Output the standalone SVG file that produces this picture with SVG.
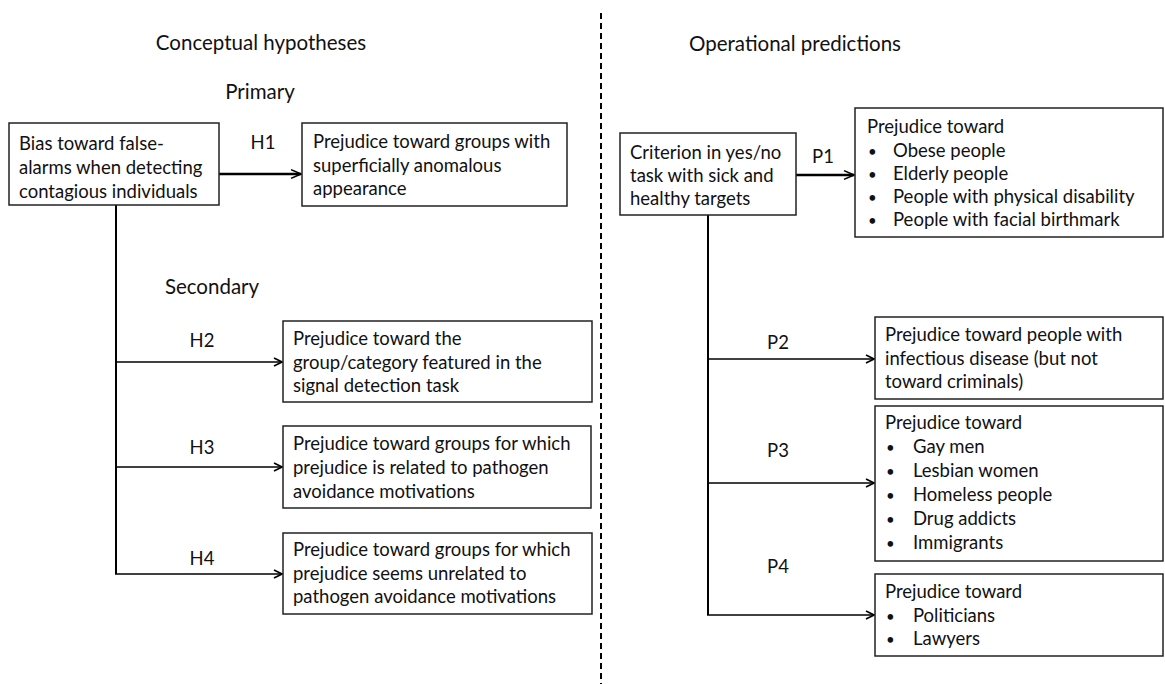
<svg xmlns="http://www.w3.org/2000/svg" width="1165" height="684" viewBox="0 0 1165 684">
<style>
text { font-family: Lato, "Open Sans", "Liberation Sans", sans-serif; font-size: 18.5px; fill: #111; }
.title { font-size: 20.5px; }
.box { fill: #fff; stroke: #222; stroke-width: 1.5; }
.thick { stroke: #000; stroke-width: 2.5; fill: none; }
.thin { stroke: #000; stroke-width: 1.6; fill: none; }
.trunk { stroke: #000; stroke-width: 2; fill: none; }
.lbl { text-anchor: middle; }
.bul { font-size: 15px; }
</style>
<defs>
<marker id="ahb" viewBox="0 0 10 10" refX="9" refY="5" markerWidth="5" markerHeight="5" orient="auto" markerUnits="strokeWidth">
<path d="M1,1.5 L9,5 L1,8.5" fill="none" stroke="#000" stroke-width="1.3"/>
</marker>
<marker id="ahs" viewBox="0 0 10 10" refX="9" refY="5" markerWidth="10" markerHeight="10" orient="auto" markerUnits="userSpaceOnUse">
<path d="M1,1 L9,5 L1,9" fill="none" stroke="#000" stroke-width="1.6"/>
</marker>
</defs>

<g id="headings">
<text class="title lbl" x="261" y="50">Conceptual hypotheses</text>
<text class="title lbl" x="260" y="99">Primary</text>
<text class="title lbl" x="212" y="294">Secondary</text>
<text class="title lbl" x="795" y="51">Operational predictions</text>
</g>

<g id="divider">
<line x1="601" y1="13" x2="601" y2="684" stroke="#000" stroke-width="2" stroke-dasharray="6 4"/>
</g>

<g id="connectors">
<line class="thick" x1="219" y1="174" x2="301" y2="174" marker-end="url(#ahb)"/>
<polyline class="trunk" points="116,205 116,574"/>
<line class="thin" x1="116" y1="362" x2="282" y2="362" marker-end="url(#ahs)"/>
<line class="thin" x1="116" y1="467" x2="282" y2="467" marker-end="url(#ahs)"/>
<line class="thin" x1="115" y1="574" x2="282" y2="574" marker-end="url(#ahs)"/>
<line class="thick" x1="796" y1="175" x2="854" y2="175" marker-end="url(#ahb)"/>
<polyline class="trunk" points="708,215 708,615"/>
<line class="thin" x1="708" y1="359" x2="874" y2="359" marker-end="url(#ahs)"/>
<line class="thin" x1="708" y1="483" x2="874" y2="483" marker-end="url(#ahs)"/>
<line class="thin" x1="707" y1="615" x2="874" y2="615" marker-end="url(#ahs)"/>
<text class="lbl" x="263" y="149">H1</text>
<text class="lbl" x="202" y="347">H2</text>
<text class="lbl" x="202" y="454">H3</text>
<text class="lbl" x="202" y="565">H4</text>
<text class="lbl" x="823" y="163">P1</text>
<text class="lbl" x="778" y="349">P2</text>
<text class="lbl" x="778" y="457">P3</text>
<text class="lbl" x="778" y="573">P4</text>
</g>

<g id="bias">
<rect class="box" x="9" y="123" width="210" height="82"/>
<text x="19" y="150">Bias toward false-</text>
<text x="19" y="174">alarms when detecting</text>
<text x="19" y="198">contagious individuals</text>
</g>

<g id="h1">
<rect class="box" x="302" y="123" width="265" height="83"/>
<text x="313" y="148">Prejudice toward groups with</text>
<text x="313" y="172">superficially anomalous</text>
<text x="313" y="195">appearance</text>
</g>

<g id="h2">
<rect class="box" x="283" y="321" width="309" height="81"/>
<text x="293" y="345">Prejudice toward the</text>
<text x="293" y="369">group/category featured in the</text>
<text x="293" y="392">signal detection task</text>
</g>

<g id="h3">
<rect class="box" x="283" y="426" width="308" height="82"/>
<text x="293" y="450">Prejudice toward groups for which</text>
<text x="293" y="474">prejudice is related to pathogen</text>
<text x="293" y="498">avoidance motivations</text>
</g>

<g id="h4">
<rect class="box" x="283" y="533" width="309" height="81"/>
<text x="293" y="556">Prejudice toward groups for which</text>
<text x="293" y="580">prejudice seems unrelated to</text>
<text x="293" y="603">pathogen avoidance motivations</text>
</g>

<g id="criterion">
<rect class="box" x="620" y="133" width="176" height="82"/>
<text x="630" y="159">Criterion in yes/no</text>
<text x="630" y="182">task with sick and</text>
<text x="630" y="205">healthy targets</text>
</g>

<g id="p1">
<rect class="box" x="855" y="108" width="308" height="129"/>
<text x="867" y="133">Prejudice toward</text>
<text class="bul" x="868" y="157">•</text><text x="893" y="157">Obese people</text>
<text class="bul" x="868" y="180">•</text><text x="893" y="180">Elderly people</text>
<text class="bul" x="868" y="203">•</text><text x="893" y="203">People with physical disability</text>
<text class="bul" x="868" y="226">•</text><text x="893" y="226">People with facial birthmark</text>
</g>

<g id="p2">
<rect class="box" x="875" y="317" width="288" height="82"/>
<text x="885" y="341">Prejudice toward people with</text>
<text x="885" y="365">infectious disease (but not</text>
<text x="885" y="388">toward criminals)</text>
</g>

<g id="p3">
<rect class="box" x="875" y="406" width="288" height="155"/>
<text x="885" y="429">Prejudice toward</text>
<text class="bul" x="886" y="453">•</text><text x="913" y="453">Gay men</text>
<text class="bul" x="886" y="477">•</text><text x="913" y="477">Lesbian women</text>
<text class="bul" x="886" y="501">•</text><text x="913" y="501">Homeless people</text>
<text class="bul" x="886" y="525">•</text><text x="913" y="525">Drug addicts</text>
<text class="bul" x="886" y="549">•</text><text x="913" y="549">Immigrants</text>
</g>

<g id="p4">
<rect class="box" x="875" y="574" width="288" height="82"/>
<text x="885" y="598">Prejudice toward</text>
<text class="bul" x="886" y="622">•</text><text x="913" y="622">Politicians</text>
<text class="bul" x="886" y="645">•</text><text x="913" y="645">Lawyers</text>
</g>
</svg>
